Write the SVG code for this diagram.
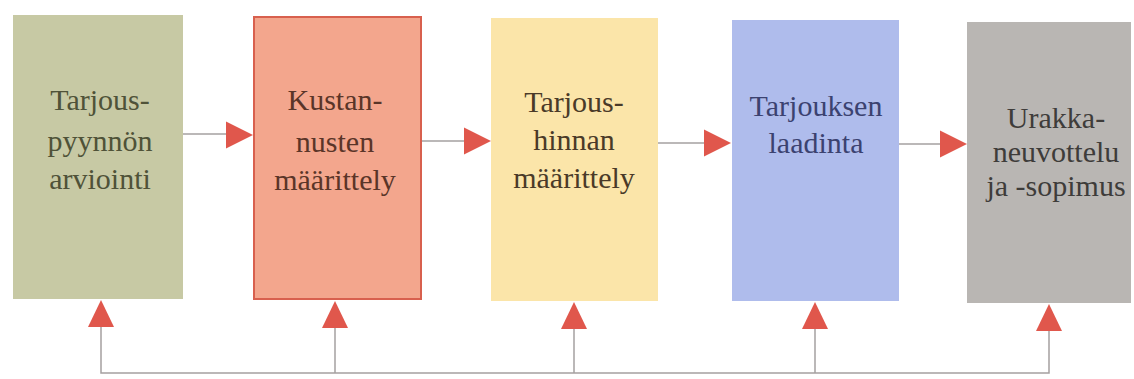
<svg xmlns="http://www.w3.org/2000/svg" xmlns:xlink="http://www.w3.org/1999/xlink" width="1134" height="379" viewBox="0 0 1134 379">
<style>
.lbl{font-family:'Liberation Serif','Tinos','Times New Roman','DejaVu Serif','Noto Serif',serif;font-size:30px;text-anchor:middle}
.ln{stroke:#a5a0a0;stroke-width:1.5;fill:none}
.tri{fill:#e0574c}
</style>
<defs>
<path id="ar" d="M0,-13.5 L27,0 L0,13.5 Z"/>
<path id="au" d="M0,0 L13,27 L-13,27 Z"/>
</defs>
<rect width="1134" height="379" fill="#ffffff"/>
<g id="connectors">
<line class="ln" x1="183" y1="134" x2="228" y2="134"/>
<line class="ln" x1="421" y1="141" x2="465" y2="141"/>
<line class="ln" x1="658" y1="143" x2="705" y2="143"/>
<line class="ln" x1="899" y1="144" x2="941" y2="144"/>
<use href="#ar" class="tri" x="226" y="135"/>
<use href="#ar" class="tri" x="464" y="141"/>
<use href="#ar" class="tri" x="704" y="143"/>
<use href="#ar" class="tri" x="940" y="144"/>
<polyline class="ln" points="101,326 101,373 1049,373 1049,330"/>
<line class="ln" x1="335" y1="326" x2="335" y2="373"/>
<line class="ln" x1="574" y1="328" x2="574" y2="373"/>
<line class="ln" x1="815" y1="328" x2="815" y2="373"/>
<use href="#au" class="tri" x="101" y="300"/>
<use href="#au" class="tri" x="335" y="301"/>
<use href="#au" class="tri" x="574" y="302"/>
<use href="#au" class="tri" x="815" y="302"/>
<use href="#au" class="tri" x="1049" y="304"/>
</g>
<g id="node1">
<rect x="13" y="15" width="170" height="284" fill="#c7c9a4"/>
<text class="lbl" fill="#4f5238"><tspan x="100" y="110">Tarjous-</tspan><tspan x="100" y="151">pyynnön</tspan><tspan x="100" y="189">arviointi</tspan></text>
</g>
<g id="node2">
<rect x="254" y="17" width="167" height="282" fill="#f3a68d" stroke="#d8604e" stroke-width="2"/>
<text class="lbl" fill="#5a3528"><tspan x="335" y="110">Kustan-</tspan><tspan x="335" y="152">nusten</tspan><tspan x="335" y="190">määrittely</tspan></text>
</g>
<g id="node3">
<rect x="491" y="18" width="167" height="283" fill="#fbe5a9"/>
<text class="lbl" fill="#4a3a28"><tspan x="574" y="112">Tarjous-</tspan><tspan x="574" y="150">hinnan</tspan><tspan x="574" y="188">määrittely</tspan></text>
</g>
<g id="node4">
<rect x="732" y="20" width="167" height="281" fill="#afbcec"/>
<text class="lbl" fill="#3b4270"><tspan x="816" y="116">Tarjouksen</tspan><tspan x="816" y="153">laadinta</tspan></text>
</g>
<g id="node5">
<rect x="967" y="22" width="164" height="281" fill="#b9b6b3"/>
<text class="lbl" fill="#3e3c3a"><tspan x="1056" y="128">Urakka-</tspan><tspan x="1056" y="162">neuvottelu</tspan><tspan x="1056" y="196">ja -sopimus</tspan></text>
</g>
</svg>
